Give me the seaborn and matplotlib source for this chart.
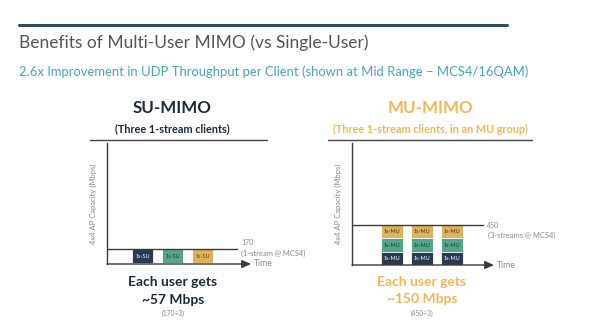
import matplotlib
matplotlib.use("Agg")
import matplotlib.pyplot as plt
import seaborn as sns
import pandas as pd

# ---- data ----
su_clients = ["Client A", "Client B", "Client C"]
su_values = [170, 170, 170]            # each client gets the full 1-stream slot
su_labels = ["1s-SU", "1s-SU", "1s-SU"]
su_capacity = 170

mu_groups = ["Slot 1", "Slot 2", "Slot 3"]
mu_layer_values = [150, 150, 150]       # per-user share within a 3-stream MU group
mu_labels = ["1s-MU", "1s-MU", "1s-MU"]
mu_capacity = 450

NAVY = "#1f3a5c"
GREEN = "#46b489"
YELLOW = "#f4b847"
TEAL = "#47a7b5"
GOLD = "#f2b857"
DARK = "#1d2a3a"
GRAY = "#8a8a8a"
AXC = "#3a3a3a"

sns.set_theme(style="white")
plt.rcParams["font.family"] = ["Lato", "DejaVu Sans"]

W, H = 600, 325
fig = plt.figure(figsize=(6, 3.25), dpi=100)
fig.patch.set_facecolor("white")


def fx(x):
    return x / W


def fy(y):
    return 1 - y / H


def axes_px(l, t, r, b):
    return fig.add_axes([fx(l), fy(b), (r - l) / W, (b - t) / H])


def ftext(x, y, s, **kw):
    fig.text(fx(x), fy(y), s, **kw)


def hline(x0, x1, y, color, lw):
    fig.add_artist(plt.Line2D([fx(x0), fx(x1)], [fy(y), fy(y)], color=color, lw=lw,
                              transform=fig.transFigure))


YTOP = 1380

# ---- header ----
hline(19, 507, 24.5, "#2f4d5c", 2.2)
ftext(19, 43, "Benefits of Multi-User MIMO (vs Single-User)", fontsize=12.5,
      color="#555555", va="center", ha="left")
ftext(19, 72, "2.6x Improvement in UDP Throughput per Client (shown at Mid Range \u2013 MCS4/16QAM)",
      fontsize=9.4, color=TEAL, va="center", ha="left")


def setup_axis(ax, xl, line_frac, cap):
    ax.set_xlim(*xl)
    ax.set_ylim(0, YTOP)
    for s in ["top", "right", "bottom"]:
        ax.spines[s].set_visible(False)
    ax.spines["left"].set_color(AXC)
    ax.spines["left"].set_linewidth(1.0)
    ax.set_xticks([])
    ax.set_yticks([])
    ax.set_xlabel("")
    ax.set_ylabel("4x4 AP Capacity (Mbps)", fontsize=5.5, color=GRAY, labelpad=7)
    ax.axhline(cap, xmin=0, xmax=line_frac, color=AXC, lw=1.0, zorder=5)
    ax.annotate("", xy=(1.0, 0), xytext=(0, 0), xycoords="axes fraction",
                arrowprops=dict(arrowstyle="-|>,head_length=0.45,head_width=0.2",
                                color=AXC, lw=1.0, shrinkA=0, shrinkB=0))
    ax.text(1.02, 0, "Time", transform=ax.transAxes, fontsize=6.2, color=GRAY,
            va="center", ha="left")
    ax.set_facecolor("none")


# ---- SU-MIMO ----
ax1 = axes_px(107, 143, 251, 264)
su_df = pd.DataFrame({"client": su_clients, "mbps": su_values})
sns.barplot(data=su_df, x="client", y="mbps", hue="client",
            palette=[NAVY, GREEN, YELLOW], width=0.72, legend=False,
            edgecolor="white", linewidth=1.3, ax=ax1)
setup_axis(ax1, (-1.2, 3.6), (237 - 107) / 144, su_capacity)
lab_colors = ["white", "#1d3b35", "#5a4a20"]
for i, (lab, v) in enumerate(zip(su_labels, su_values)):
    ax1.text(i, v / 2, lab, ha="center", va="center", fontsize=4, color=lab_colors[i])
ax1.text((241 - 107) / 144, su_capacity + 70, str(su_capacity),
         transform=ax1.get_yaxis_transform(), fontsize=5, color=GRAY, va="center")
ax1.text((241 - 107) / 144, su_capacity - 50, "(1-stream @ MCS4)",
         transform=ax1.get_yaxis_transform(), fontsize=5.4, color=GRAY, va="center")

ftext(172, 108, "SU-MIMO", fontsize=12.2, fontweight="bold", color=DARK, ha="center", va="center")
ftext(172, 129, "(Three 1-stream clients)", fontsize=7.8, fontweight="bold", color=DARK,
      ha="center", va="center")
hline(90, 267, 139.5, "#444444", 1.0)
ftext(173, 282, "Each user gets", fontsize=10, fontweight="bold", color=DARK, ha="center", va="center")
ftext(173, 300, "~57 Mbps", fontsize=10, fontweight="bold", color=DARK, ha="center", va="center")
ftext(173, 313, "(170\u00f73)", fontsize=4.8, color=GRAY, ha="center", va="center")

# ---- MU-MIMO ----
ax2 = axes_px(352, 143, 494, 265)
layers = [(YELLOW, 3), (GREEN, 2), (NAVY, 1)]
for color, n in layers:
    totals = [sum(mu_layer_values[:n]) for _ in mu_groups]
    df = pd.DataFrame({"slot": mu_groups, "mbps": totals})
    sns.barplot(data=df, x="slot", y="mbps", color=color, width=0.72,
                edgecolor="white", linewidth=0.6, ax=ax2)
setup_axis(ax2, (-1.33, 3.4), (483 - 352) / 142, mu_capacity)
mu_text_colors = ["white", "#1d3b35", "#4a3a10"]
for i, g in enumerate(mu_groups):
    base = 0
    for k, v in enumerate(mu_layer_values):
        ax2.text(i, base + v / 2, mu_labels[k], ha="center", va="center",
                 fontsize=4, color=mu_text_colors[k])
        base += v
ax2.text((487 - 352) / 142, mu_capacity, str(mu_capacity),
         transform=ax2.get_yaxis_transform(), fontsize=5, color=GRAY, va="center")
ax2.text((488 - 352) / 142, mu_capacity - 120, "(3-streams @ MCS4)",
         transform=ax2.get_yaxis_transform(), fontsize=5.4, color=GRAY, va="center")

ftext(430, 108, "MU-MIMO", fontsize=12.2, fontweight="bold", color=GOLD, ha="center", va="center")
ftext(430, 129, "(Three 1-stream clients, in an MU group)", fontsize=7.8, fontweight="bold",
      color=GOLD, ha="center", va="center")
hline(328, 532, 139.5, "#444444", 1.0)
ftext(422, 282, "Each user gets", fontsize=10, fontweight="bold", color=GOLD, ha="center", va="center")
ftext(422, 299, "~150 Mbps", fontsize=10, fontweight="bold", color=GOLD, ha="center", va="center")
ftext(422, 313, "(450\u00f73)", fontsize=4.8, color=GRAY, ha="center", va="center")

fig.savefig("out.png", dpi=100, facecolor="white")
